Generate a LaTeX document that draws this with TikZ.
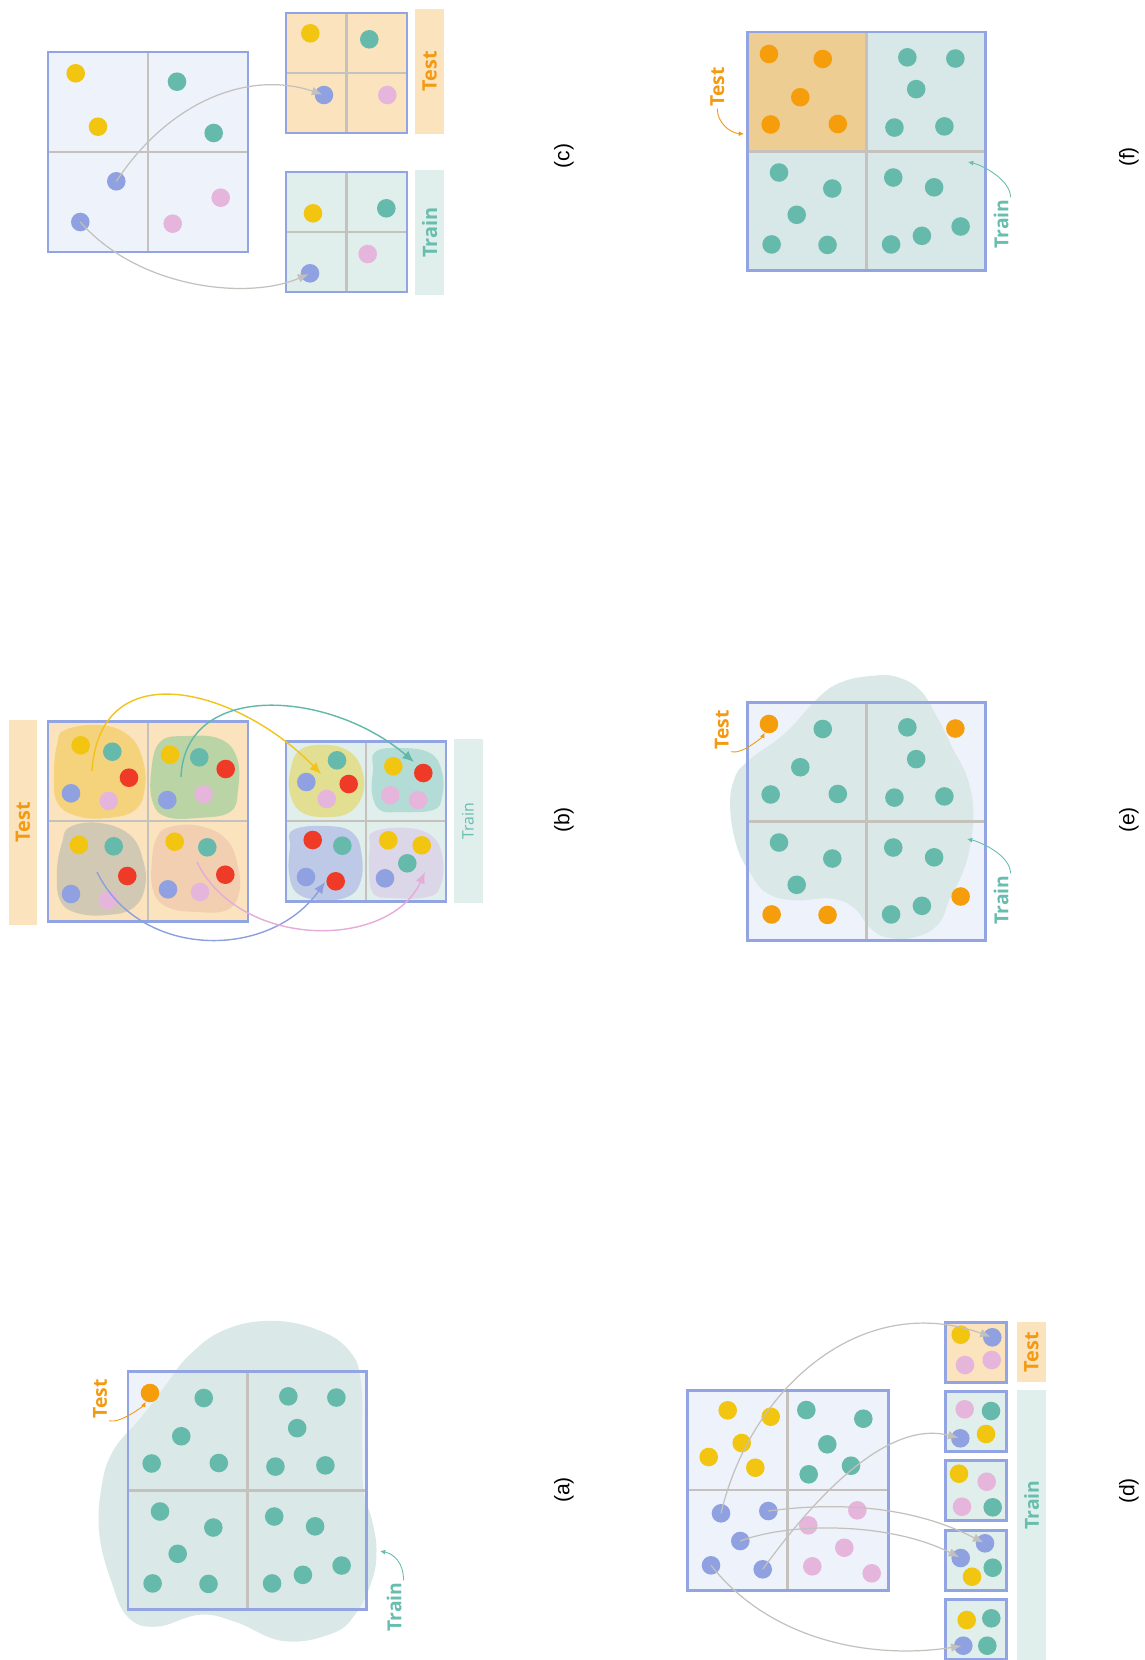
\documentclass[tikz,border=0pt]{standalone}
\usepackage{fontspec}
\setmainfont{Liberation Sans}
\newfontfamily\tagfont{Open Sans}
\usetikzlibrary{arrows.meta,positioning}
\definecolor{frameblue}{HTML}{93A4E3}
\definecolor{gridgrey}{HTML}{C5C1BC}
\definecolor{lavbg}{HTML}{EEF2FB}
\definecolor{testbg}{HTML}{FBE3BD}
\definecolor{trainbg}{HTML}{E0EEEC}
\definecolor{blobteal}{HTML}{DAE8E7}
\definecolor{fteal}{HTML}{D8E7E7}
\definecolor{testquad}{HTML}{EDCD92}
\definecolor{dteal}{HTML}{66BAAB}
\definecolor{dyellow}{HTML}{F2C511}
\definecolor{dred}{HTML}{EE3A26}
\definecolor{dblue}{HTML}{8FA1E0}
\definecolor{dpink}{HTML}{E6B5DC}
\definecolor{dorange}{HTML}{F59D0A}
\definecolor{testtxt}{HTML}{F39A12}
\definecolor{traintxt}{HTML}{67BDAE}
\definecolor{arrgrey}{HTML}{C4C1BC}
% blob colours of panel (b)
\definecolor{blobA}{HTML}{F5D27C}
\definecolor{blobB}{HTML}{BBD4A6}
\definecolor{blobC}{HTML}{D2C9B4}
\definecolor{blobD}{HTML}{F2CFB1}
\definecolor{blobE}{HTML}{E2DE92}
\definecolor{blobF}{HTML}{B4DCD6}
\definecolor{blobG}{HTML}{BDC9E7}
\definecolor{blobH}{HTML}{DCD6E9}
\definecolor{arrY}{HTML}{F2C31A}
\definecolor{arrT}{HTML}{5FB8A8}
\definecolor{arrB}{HTML}{8D9FDE}
\definecolor{arrP}{HTML}{E5ABD9}

\begin{document}
\begin{tikzpicture}[x=0.02cm, y=-0.02cm,
  dot/.style={circle, inner sep=0pt, minimum size=0.372cm},
  frame/.style={draw=frameblue, line width=1.7pt},
  gridline/.style={draw=gridgrey, line width=1.5pt},
  bar/.style={rotate=90, inner sep=0pt, minimum height=0.58cm,
    font=\tagfont\fontsize{11.3}{13}\selectfont\bfseries},
  testbar/.style={bar, fill=testbg, text=testtxt},
  trainbar/.style={bar, fill=trainbg, text=traintxt},
  tag/.style={rotate=90, inner sep=1pt, font=\tagfont\fontsize{11}{13}\selectfont\bfseries},
  panel/.style={rotate=90, font=\fontsize{12}{14}\selectfont},
  garr/.style={draw=arrgrey, line width=0.7pt, -{Latex[length=6pt,width=5pt]}, shorten >=1pt},
  carr/.style={line width=0.8pt, -{Latex[length=6.5pt,width=5.5pt]}},
  hint/.style={line width=0.5pt, -{Latex[length=3pt,width=2.8pt]}}
]
\useasboundingbox (0,0) rectangle (1144,1660);

% ---------------- (a)
\fill[lavbg] (128,1371) rectangle (367,1610);
\begin{scope}[shift={(128,1371)}, x=4.78cm, y=-4.78cm]
  \fill[blobteal] plot[smooth cycle, tension=.7] coordinates {(.60,-.21) (.80,-.17) (.93,-.08)
    (.975,.05) (.98,.3) (.985,.5) (1.02,.62) (1.04,.75) (1.02,.88) (.95,1.02) (.85,1.1) (.65,1.13)
    (.45,1.05) (.3,1.02) (.12,1.07) (0,1.03) (-.07,.88) (-.12,.68) (-.11,.48) (-.06,.33) (.05,.2)
    (.15,.07) (.25,-.06) (.40,-.17)};
  \draw[gridline] (.5,0) -- (.5,1) (0,.5) -- (1,.5);
  \draw[frame] (0,0) rectangle (1,1);
  \foreach \u/\v in {.317/.113, .223/.273, .099/.387, .380/.385, .671/.106, .872/.111, .708/.239,
    .617/.400, .826/.395, .134/.588, .357/.655, .208/.765, .103/.889, .337/.891, .612/.609,
    .783/.650, .732/.853, .603/.889, .894/.814}
    \node[dot, fill=dteal] at (\u,\v) {};
  \node[dot, fill=dorange] (a1) at (.092,.092) {};
\end{scope}
\node[tag, text=testtxt] (tA) at (100,1399) {Test};
\node[tag, text=traintxt] (trA) at (394,1607) {Train};
\coordinate (ain) at (380,1551);
\draw[hint, testtxt] (tA.south west) .. controls +(12,3) and +(-6,12) .. (a1);
\draw[hint, traintxt] (trA.south east) .. controls +(0,-18) and +(14,3) .. (ain);
\node[panel] (la) at (564,1490) {(a)};

% ---------------- (b)
\node[testbar, minimum width=4.1cm] (bTestBar) at (23,822.5) {Test};
\fill[testbg] (48,721) rectangle (248,921);
\fill[blobA] plot[smooth cycle, tension=.7] coordinates {(65,730) (100,725) (128,735) (142,757)
  (145,787) (135,810) (107,818) (77,816) (57,802) (54,773) (57,745)};
\fill[blobB] plot[smooth cycle, tension=.7] coordinates {(160,742) (187,736) (220,739) (237,758)
  (238,790) (230,812) (197,818) (167,817) (153,803) (151,773)};
\fill[blobC] plot[smooth cycle, tension=.7] coordinates {(70,827) (100,823) (130,835) (143,860)
  (145,887) (133,908) (107,915) (77,913) (60,900) (57,870) (62,843)};
\fill[blobD] plot[smooth cycle, tension=.7] coordinates {(170,827) (200,826) (227,840) (238,867)
  (239,893) (227,910) (197,912) (167,907) (153,890) (152,860) (157,837)};
\draw[gridline] (148,721) -- (148,921) (48,821) -- (248,821);
\draw[frame] (48,721) rectangle (248,921);
\foreach \x/\y/\c in {80.7/745.3/dyellow, 112.3/751.7/dteal, 129/777.7/dred, 71/793.3/dblue,
  108.7/801/dpink, 170/754.7/dyellow, 199.3/757.3/dteal, 225.7/769/dred, 167.3/800/dblue,
  203.7/794.3/dpink, 79/845/dyellow, 113.7/846.3/dteal, 127.3/876/dred, 71/894/dblue,
  108/900/dpink, 174.7/841.7/dyellow, 207.3/847.3/dteal, 225.3/874.7/dred, 168/889.3/dblue,
  200/892/dpink}
  \node[dot, fill=\c] at (\x,\y) {};
\fill[trainbg] (286,741) rectangle (446,901);
\fill[blobE] plot[smooth cycle, tension=.7] coordinates {(300,750) (327,745) (350,752) (362,770)
  (363,793) (350,812) (327,817) (303,813) (291,797) (290,773)};
\fill[blobF] plot[smooth cycle, tension=.7] coordinates {(375,752) (400,748) (430,753) (442,772)
  (442,797) (433,810) (400,812) (380,810) (372,793) (373,770)};
\fill[blobG] plot[smooth cycle, tension=.7] coordinates {(293,830) (327,826) (353,833) (362,857)
  (360,883) (347,897) (320,900) (297,893) (289,873) (290,847)};
\fill[blobH] plot[smooth cycle, tension=.7] coordinates {(373,832) (407,828) (433,837) (443,860)
  (440,887) (427,897) (393,898) (373,893) (369,867) (370,847)};
\draw[gridline] (366,741) -- (366,901) (286,821) -- (446,821);
\draw[frame] (286,741) rectangle (446,901);
\foreach \x/\y/\c in {337/760.3/dteal, 306.3/782/dblue, 348.7/784/dred, 326.7/799/dpink,
  393.3/766.3/dyellow, 423.3/773/dred, 390.3/795.3/dpink, 418/800/dpink,
  312.7/840/dred, 342.3/845.7/dteal, 306/877/dblue, 335.7/881.3/dred,
  388.3/840.3/dyellow, 421.7/845.3/dyellow, 407.3/863.3/dteal, 385/878.3/dblue}
  \node[dot, fill=\c] at (\x,\y) {};
\node[trainbar, minimum width=3.28cm, font=\tagfont\fontsize{9}{11}\selectfont] (bTrainBar) at (468,821) {Train};
\coordinate (bY0) at (92,771);  \coordinate (bY1) at (321,774);
\coordinate (bT0) at (181,777); \coordinate (bT1) at (414,762);
\coordinate (bB0) at (97,872);  \coordinate (bB1) at (325,882);
\coordinate (bP0) at (197,862); \coordinate (bP1) at (425,872);
\draw[carr, arrY] (bY0) .. controls (100,650) and (240,690) .. (bY1);
\draw[carr, arrT] (bT0) .. controls (185,680) and (330,690) .. (bT1);
\draw[carr, arrB] (bB0) .. controls (140,960) and (270,960) .. (bB1);
\draw[carr, arrP] (bP0) .. controls (240,950) and (390,950) .. (bP1);
\node[panel] (lb) at (564,820) {(b)};

% ---------------- (c)
\fill[lavbg] (48,52) rectangle (248,252);
\draw[gridline] (148,52) -- (148,252) (48,152) -- (248,152);
\draw[frame] (48,52) rectangle (248,252);
\fill[testbg] (286,13) rectangle (407,133);
\draw[gridline] (346.5,13) -- (346.5,133) (286,73) -- (407,73);
\draw[frame] (286,13) rectangle (407,133);
\fill[trainbg] (286,172) rectangle (407,292);
\draw[gridline] (346.5,172) -- (346.5,292) (286,232) -- (407,232);
\draw[frame] (286,172) rectangle (407,292);
\node[testbar, minimum width=2.5cm] (cTestBar) at (429.7,71.5) {Test};
\node[trainbar, minimum width=2.5cm] (cTrainBar) at (429.7,232.5) {Train};
\foreach \x/\y/\c in {75.7/73.3/dyellow, 98/126.7/dyellow, 177/81.7/dteal, 213.7/133/dteal,
  220.7/197.7/dpink, 172.7/223.7/dpink, 310.3/33.3/dyellow, 369.3/39.3/dteal, 387.3/95/dpink,
  313/213.3/dyellow, 386.3/208.3/dteal, 367.7/254/dpink}
  \node[dot, fill=\c] at (\x,\y) {};
\node[dot, fill=dblue] (c1) at (116.3,181.3) {};
\node[dot, fill=dblue] (c2) at (80.3,222) {};
\node[dot, fill=dblue] (cT) at (324,95) {};
\node[dot, fill=dblue] (cR) at (310,273.3) {};
\draw[garr] (c1.center) .. controls (170,100) and (250,70) .. (cT.center);
\draw[garr] (c2.center) .. controls (140,290) and (250,300) .. (cR.center);
\node[panel] (lc) at (564,156) {(c)};

% ---------------- (d)
\fill[lavbg] (687,1390) rectangle (888,1590);
\draw[gridline] (787.5,1390) -- (787.5,1590) (687,1490) -- (888,1490);
\draw[frame] (687,1390) rectangle (888,1590);
\foreach \x/\y/\c in {727.7/1410.3/dyellow, 770.7/1416.7/dyellow, 741.7/1443/dyellow,
  708.7/1457/dyellow, 755.3/1467.7/dyellow, 806.3/1410/dteal, 863.3/1418.7/dteal,
  827.3/1444.3/dteal, 851/1465.7/dteal, 808.7/1474.3/dteal, 857.3/1510.3/dpink,
  808.3/1525.3/dpink, 844.3/1547.7/dpink, 812.3/1566.3/dpink, 871.7/1573.3/dpink}
  \node[dot, fill=\c] at (\x,\y) {};
\node[dot, fill=dblue] (d1) at (721,1513.3) {};
\node[dot, fill=dblue] (d2) at (768.3,1511) {};
\node[dot, fill=dblue] (d3) at (740.3,1541) {};
\node[dot, fill=dblue] (d4) at (711,1565.3) {};
\node[dot, fill=dblue] (d5) at (762.7,1569.3) {};
\fill[testbg] (945,1322) rectangle (1006,1382);
\foreach \t in {1391,1460.5,1530,1599.5}
  \fill[trainbg] (945,\t) rectangle (1006,\t+60);
\foreach \t in {1322,1391,1460.5,1530,1599.5}
  \draw[frame] (945,\t) rectangle (1006,\t+60);
\foreach \x/\y/\c in {960.7/1334.7/dyellow, 965/1365/dpink, 991.7/1360/dpink,
  964.7/1409.3/dpink, 991/1411/dteal, 986/1434/dyellow,
  959/1473.7/dyellow, 986.7/1481.7/dpink, 962/1506.7/dpink, 992.7/1507.3/dteal,
  992.7/1567.7/dteal, 972/1576.7/dyellow,
  966.7/1620/dyellow, 991.3/1618.3/dteal, 987.3/1645.7/dteal}
  \node[dot, fill=\c] at (\x,\y) {};
\node[dot, fill=dblue] (k1) at (992.3,1337.3) {};
\node[dot, fill=dblue] (k2) at (960.3,1438.3) {};
\node[dot, fill=dblue] (k3) at (985,1543.3) {};
\node[dot, fill=dblue] (k4) at (960.7,1558) {};
\node[dot, fill=dblue] (k5) at (963.3,1645.7) {};
\draw[garr] (d1.center) .. controls (750,1390) and (860,1290) .. (k1.center);
\draw[garr] (d5.center) .. controls (820,1490) and (890,1420) .. (k2.center);
\draw[garr] (d2.center) .. controls (850,1500) and (920,1510) .. (k3.center);
\draw[garr] (d3.center) .. controls (790,1522) and (890,1522) .. (k4.center);
\draw[garr] (d4.center) .. controls (770,1640) and (870,1660) .. (k5.center);
\node[testbar, minimum width=1.21cm] (dTestBar) at (1031.3,1352) {Test};
\fill[trainbg] (1017,1390) rectangle (1046,1660);
\node[tag, text=traintxt] (dTrain) at (1031.5,1505) {Train};
\node[panel] (ld) at (1129,1491) {(d)};

% ---------------- (e)
\fill[lavbg] (747,702) rectangle (986,941);
\begin{scope}[shift={(747,702)}, x=4.78cm, y=-4.78cm]
  \fill[blobteal] plot[smooth cycle, tension=.7] coordinates {(.529,-.11) (.627,-.105) (.724,-.05)
    (.794,.06) (.864,.2) (.92,.312) (.947,.452) (.933,.606) (.9,.72) (.85,.82) (.80,.93) (.70,.985)
    (.585,.985) (.515,.945) (.446,.86) (.348,.822) (.2,.83) (.084,.80) (.014,.717) (-.042,.606)
    (-.07,.452) (-.056,.33) (0,.25) (.16,.13) (.30,-.02) (.40,-.085)};
  \draw[gridline] (.5,0) -- (.5,1) (0,.5) -- (1,.5);
  \draw[frame] (0,0) rectangle (1,1);
  \foreach \u/\v in {.317/.113, .223/.273, .099/.387, .380/.385, .671/.106, .708/.239,
    .617/.400, .826/.395, .134/.588, .357/.655, .208/.765, .612/.609,
    .783/.650, .732/.853, .603/.889}
    \node[dot, fill=dteal] at (\u,\v) {};
  \foreach \u/\v in {.872/.111, .103/.889, .337/.891, .894/.814}
    \node[dot, fill=dorange] at (\u,\v) {};
  \node[dot, fill=dorange] (e1) at (.092,.092) {};
\end{scope}
\node[tag, text=testtxt] (tE) at (721.7,730) {Test};
\node[tag, text=traintxt] (trE) at (1001,900) {Train};
\coordinate (ein) at (967,839);
\draw[hint, testtxt] (tE.south west) .. controls +(12,3) and +(-6,12) .. (e1);
\draw[hint, traintxt] (trE.south east) .. controls +(0,-18) and +(14,3) .. (ein);
\node[panel] (le) at (1129,820) {(e)};

% ---------------- (f)
\fill[fteal] (747,32) rectangle (986,272);
\fill[testquad] (747,32) rectangle (866.5,152);
\begin{scope}[shift={(747,32)}, x=4.78cm, y=-4.78cm]
  \draw[gridline] (.5,0) -- (.5,1) (0,.5) -- (1,.5);
  \draw[frame] (0,0) rectangle (1,1);
  \foreach \u/\v in {.671/.106, .872/.111, .708/.239, .617/.400, .826/.395, .134/.588,
    .357/.655, .208/.765, .103/.889, .337/.891, .612/.609, .783/.650, .732/.853,
    .603/.889, .894/.814}
    \node[dot, fill=dteal] at (\u,\v) {};
  \foreach \u/\v in {.092/.092, .317/.113, .223/.273, .099/.387, .380/.385}
    \node[dot, fill=dorange] at (\u,\v) {};
\end{scope}
\node[tag, text=testtxt] (tF) at (717.3,87) {Test};
\node[tag, text=traintxt] (trF) at (1001,224) {Train};
\coordinate (fTin) at (744,134);
\coordinate (fin) at (968,162);
\draw[hint, testtxt] (tF.west) .. controls +(0,14) and +(-14,-1) .. (fTin);
\draw[hint, traintxt] (trF.south east) .. controls +(0,-18) and +(14,3) .. (fin);
\node[panel] (lf) at (1129,157) {(f)};
\end{tikzpicture}
\end{document}
